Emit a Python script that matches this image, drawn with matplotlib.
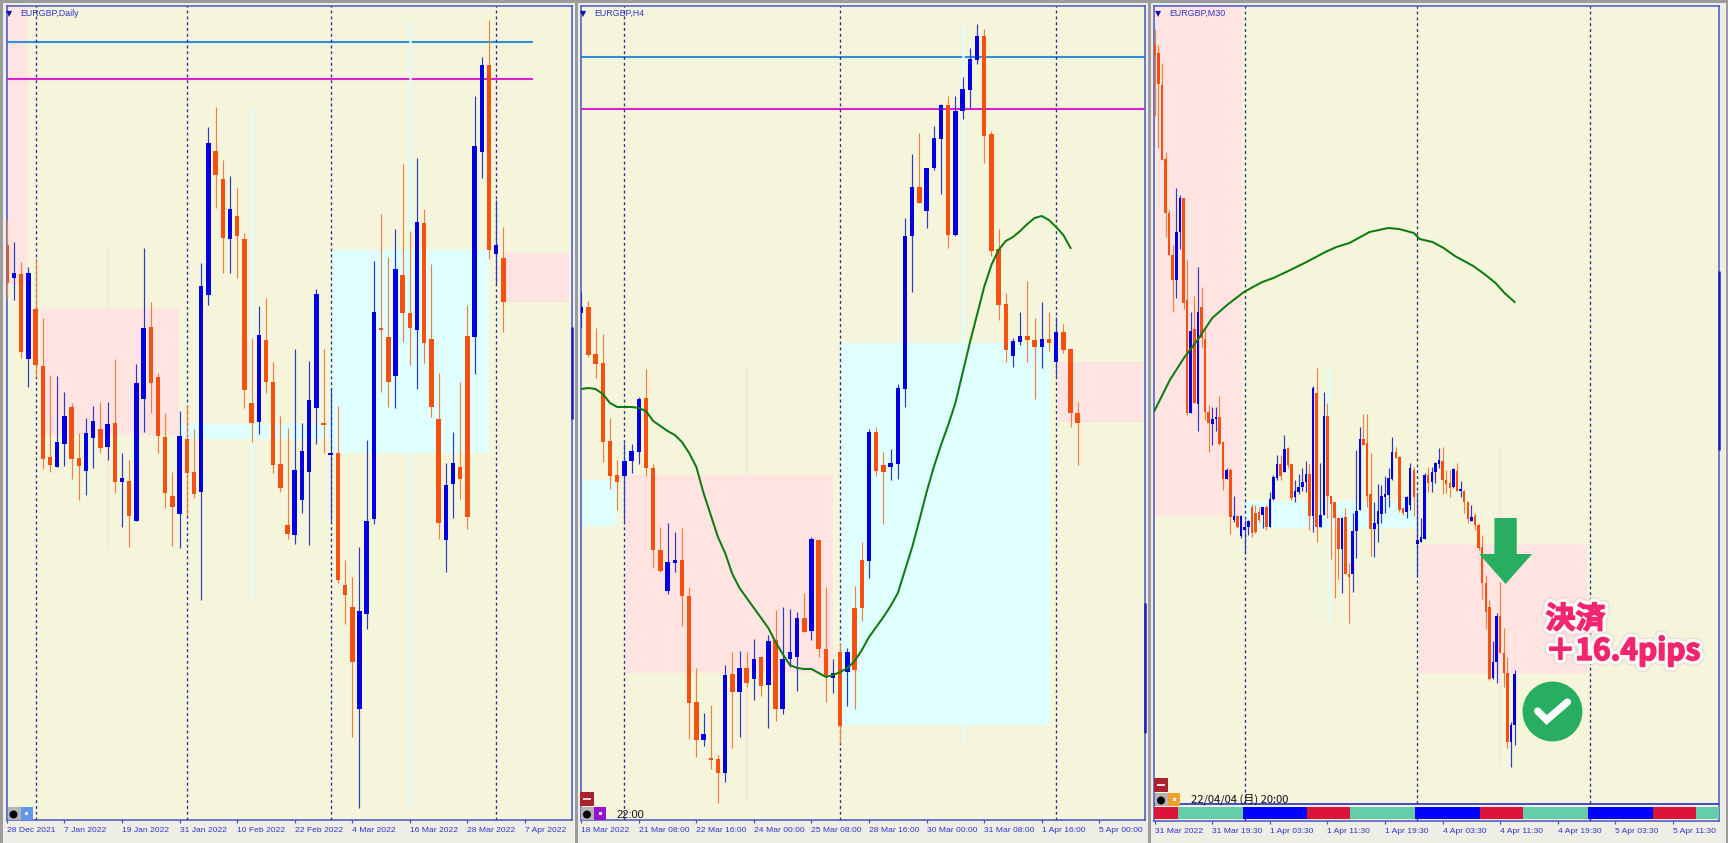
import matplotlib

matplotlib.use("Agg")
import matplotlib.pyplot as plt
import matplotlib.patheffects as pe
from matplotlib.patches import Ellipse, FancyArrow, Rectangle

W, H = 1728, 843

# price levels are read as rows of the reference, so the y axes run downwards
daily_dir = "obobooobbo" "obbobobobb" "ooooboobbo" "oboooboooo" "bbbbobooob" "bbooboobo" "o" "obboobbobo"
daily_high = [220, 242, 262, 267, 258, 318, 375, 376, 392, 403,
              433, 418, 406, 402, 402, 359, 453, 460, 364, 248,
              302, 373, 413, 472, 411, 405, 429, 263, 127, 107,
              160, 176, 188, 233, 338, 306, 298, 362, 416, 428,
              349, 423, 361, 289, 349, 388, 406, 560, 577, 547,
              440, 261, 214, 257, 229, 164, 231, 158, 209, 264,
              373, 463, 432, 382, 305, 96, 57, 20, 200, 227]
daily_top = [245, 273, 274, 273, 309, 366, 457, 442, 416, 407,
             458, 433, 421, 429, 424, 423, 478, 481, 383, 328,
             327, 377, 437, 496, 436, 439, 472, 286, 143, 151,
             179, 209, 216, 239, 403, 335, 340, 382, 464, 525,
             470, 451, 400, 294, 423, 453, 453, 585, 607, 611,
             521, 312, 328, 337, 269, 275, 313, 222, 223, 339,
             419, 485, 463, 467, 336, 146, 65, 65, 245, 258]
daily_bot = [283, 278, 352, 359, 365, 459, 465, 467, 444, 459,
             466, 471, 438, 448, 447, 482, 482, 516, 521, 399,
             383, 436, 493, 507, 514, 473, 494, 492, 295, 175,
             238, 239, 236, 390, 423, 422, 382, 465, 488, 534,
             535, 500, 472, 408, 425, 454, 580, 595, 662, 709,
             614, 519, 329, 382, 376, 313, 328, 330, 343, 407,
             523, 540, 484, 479, 517, 337, 152, 250, 254, 302]
daily_low = [298, 300, 358, 387, 377, 469, 472, 467, 466, 479,
             500, 495, 468, 453, 460, 493, 527, 547, 521, 432,
             413, 453, 508, 546, 548, 515, 498, 600, 305, 208,
             273, 273, 278, 408, 442, 434, 393, 473, 492, 539,
             544, 513, 545, 444, 453, 521, 583, 624, 737, 808,
             629, 524, 392, 407, 408, 342, 365, 389, 363, 417,
             539, 572, 518, 499, 529, 374, 178, 259, 285, 332]
daily_ticks = ["28 Dec 2021", "7 Jan 2022", "19 Jan 2022", "31 Jan 2022", "10 Feb 2022",
               "22 Feb 2022", "4 Mar 2022", "16 Mar 2022", "28 Mar 2022", "7 Apr 2022"]

h4_dir = "booooobbbo" "oobboooboo" "bobobobobb" "bobooboboo" "boobbbbobb" "bobbbboooo" "bboobobooo"
h4_high = [292, 301, 328, 334, 418, 460, 443, 444, 397, 369,
           464, 527, 523, 532, 528, 587, 668, 713, 705, 755,
           665, 652, 651, 652, 639, 656, 635, 610, 607, 609,
           612, 593, 537, 539, 587, 659, 643, 648, 586, 542,
           429, 427, 452, 449, 384, 218, 154, 133, 168, 126,
           104, 96, 96, 77, 48, 24, 29, 131, 229, 293,
           338, 312, 281, 318, 302, 312, 317, 324, 348, 402]
h4_top = [307, 307, 354, 363, 441, 475, 461, 451, 399, 398,
          468, 550, 562, 560, 560, 596, 702, 734, 758, 759,
          675, 674, 668, 668, 659, 657, 641, 640, 659, 652,
          618, 618, 539, 540, 649, 673, 652, 652, 608, 560,
          432, 432, 465, 463, 388, 236, 187, 187, 168, 138,
          105, 105, 111, 89, 59, 36, 36, 134, 249, 304,
          341, 336, 336, 340, 339, 339, 332, 332, 349, 413]
h4_bot = [313, 355, 364, 442, 476, 482, 476, 461, 452, 468,
          550, 571, 591, 563, 596, 703, 740, 740, 759, 773,
          773, 692, 692, 683, 679, 686, 685, 709, 709, 659,
          657, 632, 631, 649, 677, 678, 726, 672, 670, 608,
          561, 471, 472, 467, 464, 389, 236, 203, 211, 168,
          139, 235, 235, 111, 90, 60, 136, 251, 305, 350,
          356, 342, 340, 347, 347, 343, 362, 350, 413, 423]
h4_low = [328, 357, 378, 462, 489, 510, 522, 473, 464, 476,
          568, 572, 594, 572, 626, 739, 757, 746, 769, 803,
          782, 748, 737, 687, 700, 696, 728, 721, 714, 667,
          691, 632, 640, 657, 702, 693, 743, 706, 709, 621,
          578, 476, 524, 480, 479, 407, 292, 203, 228, 170,
          194, 248, 236, 119, 109, 64, 163, 256, 320, 362,
          367, 345, 362, 399, 368, 351, 377, 353, 427, 465]
h4_ma = [389, 388, 389, 394, 403, 407, 407, 407, 408, 411,
         421, 426, 431, 435, 442, 453, 467, 493, 515, 537,
         553, 574, 588, 598, 608, 618, 628, 642, 654, 665,
         668, 669, 669, 673, 677, 675, 672, 668, 661, 650,
         637, 627, 617, 606, 593, 570, 547, 520, 492, 467,
         445, 425, 403, 373, 343, 315, 287, 265, 250, 241,
         237, 231, 224, 218, 216, 220, 227, 235, 248]
h4_ticks = ["18 Mar 2022", "21 Mar 08:00", "22 Mar 16:00", "24 Mar 00:00", "25 Mar 08:00",
            "28 Mar 16:00", "30 Mar 00:00", "31 Mar 08:00", "1 Apr 16:00", "5 Apr 00:00"]

# bars of the M30 panel that closed up (blue)
m30_up = [6, 7, 10, 12, 16, 17, 20, 22, 24, 25, 26, 30, 32, 33, 34, 36, 39, 40, 41, 42, 44, 46, 47,
          52, 55, 56, 57, 61, 62, 63, 64, 65, 66, 70, 71, 73, 74, 75, 77, 78, 79, 83, 85, 88, 94, 95,
          99, 100]
m30_high = [29, 45, 63, 152, 210, 245, 188, 195, 198, 260,
            312, 296, 267, 287, 328, 405, 407, 407, 396, 442,
            468, 468, 496, 515, 515, 520, 520, 504, 505, 507,
            507, 505, 492, 475, 455, 455, 435, 447, 464, 480,
            474, 468, 461, 464, 386, 368, 463, 392, 403, 496,
            502, 517, 517, 508, 563, 513, 450, 427, 414, 414,
            453, 502, 484, 485, 476, 468, 437, 447, 456, 508,
            496, 463, 467, 492, 518, 473, 467, 467, 462, 448,
            447, 470, 470, 468, 463, 481, 490, 501, 505, 513,
            524, 535, 575, 600, 641, 613, 582, 628, 657, 722, 670]
m30_top = [45, 53, 85, 159, 213, 255, 232, 198, 198, 300,
           331, 329, 312, 307, 339, 412, 419, 417, 417, 442,
           470, 470, 516, 516, 516, 527, 521, 507, 513, 512,
           507, 507, 499, 477, 464, 464, 449, 448, 464, 491,
           487, 482, 474, 474, 388, 393, 515, 416, 416, 496,
           502, 518, 518, 517, 574, 531, 511, 439, 439, 443,
           494, 523, 511, 496, 494, 478, 452, 452, 457, 508,
           497, 468, 470, 540, 537, 475, 475, 472, 463, 460,
           461, 480, 483, 469, 471, 489, 491, 502, 517, 516,
           525, 547, 583, 607, 662, 616, 616, 653, 673, 725, 674]
m30_bot = [55, 84, 160, 213, 255, 280, 280, 232, 303, 413,
           413, 403, 404, 338, 412, 423, 424, 419, 444, 479,
           479, 517, 520, 527, 536, 530, 527, 533, 532, 520,
           515, 527, 527, 499, 478, 476, 472, 465, 498, 497,
           492, 487, 482, 516, 516, 527, 527, 515, 496, 504,
           518, 549, 549, 574, 577, 574, 531, 510, 445, 496,
           529, 529, 524, 514, 497, 495, 479, 458, 510, 513,
           512, 505, 497, 544, 542, 539, 483, 482, 472, 464,
           480, 484, 488, 487, 491, 491, 502, 519, 521, 525,
           548, 583, 612, 679, 678, 662, 653, 673, 742, 742, 725]
m30_low = [116, 148, 160, 237, 255, 312, 298, 249, 309, 415,
           413, 403, 431, 347, 420, 452, 445, 431, 445, 490,
           479, 534, 522, 528, 538, 553, 535, 537, 533, 522,
           528, 530, 527, 500, 480, 480, 472, 468, 500, 502,
           494, 491, 492, 530, 532, 542, 527, 515, 518, 559,
           598, 579, 593, 574, 623, 592, 558, 510, 445, 507,
           556, 557, 542, 523, 513, 507, 480, 458, 512, 515,
           518, 510, 516, 575, 542, 539, 492, 492, 483, 468,
           494, 493, 497, 488, 491, 497, 513, 523, 521, 530,
           550, 599, 629, 680, 679, 683, 653, 687, 748, 767, 745]
m30_ma_x = [-0.1, 4.2, 8.3, 11.9, 16, 20.1, 24.8, 27.3, 29.9, 33, 37.1, 42.2, 47.4, 50.5,
            54.1, 59.7, 64.9, 67.9, 72, 73.6, 77.2, 80.3, 83.4, 88.5, 91.6, 94.7, 97.2, 100]
m30_ma_y = [411, 380, 357, 340, 318, 305, 292, 287, 282, 278, 271, 262, 252, 247,
            243, 232, 228, 229, 233, 239, 242, 248, 256, 266, 274, 283, 293, 302]
m30_ticks = ["31 Mar 2022", "31 Mar 19:30", "1 Apr 03:30", "1 Apr 11:30", "1 Apr 19:30",
             "4 Apr 03:30", "4 Apr 11:30", "4 Apr 19:30", "5 Apr 03:30", "5 Apr 11:30"]
session_edges = [-0.2, 6.4, 24.4, 42.4, 54.4, 72.4, 90.4, 102.4, 120.4, 138.4, 150.4, 156.8]
session_names = ["red", "teal", "blue", "red", "teal", "blue", "red", "teal", "blue", "red", "teal"]

# zones: bar from, bar to, level top, level bottom
daily_pink = [(-0.05, 2.88, 6, 285), (4.58, 23.86, 308, 435), (69.05, 78.1, 253, 302)]
daily_cyan = [(24.2, 45.04, 424, 439), (45.1, 67.0, 250, 453)]
daily_thin_pink = [(14, 247, 547)]
daily_thin_cyan = [(34, 107, 600), (56, 20, 808)]
h4_pink = [(6.1, 35, 475, 673), (66.3, 78.2, 362, 422)]
h4_cyan = [(-0.1, 5, 480, 526), (36.1, 65.1, 343, 725)]
h4_thin_pink = [(23, 368, 803)]
h4_thin_cyan = [(53, 25, 743)]
m30_pink = [(-0.1, 24.25, 6, 516), (73.4, 120, 544, 674)]
m30_cyan = [(25, 72.6, 501, 528)]
m30_thin_pink = [(96, 447, 767)]
m30_thin_cyan = [(48.1, 368, 623)]

BG = "#f5f5dc"
PINK = "#ffe4e1"
CYAN = "#e0ffff"
ORANGE = "#f4500f"
BLUE = "#0000e0"
ORANGE_WICK = "#ef7f43"
BLUE_WICK = "#2d38c4"
NAVY = "#27308f"
AXIS = "#4656c0"
TICK_TXT = "#2f35c8"
GREEN = "#27ae60"
MA_GREEN = "#0f7a12"
SESSION = {"red": "#dc143c", "teal": "#66cdaa", "blue": "#0000ff"}
FONT = "Liberation Sans"
CJK = ["Noto Sans CJK JP", "DejaVu Sans"]


def px_rect(fig, x0, y0, x1, y1, color, zorder=10):
    fig.add_artist(Rectangle((x0 / W, 1 - y1 / H), (x1 - x0) / W, (y1 - y0) / H,
                             transform=fig.transFigure, fc=color, ec="none", zorder=zorder))


def draw_panel(fig, box, xlim, step, highs, tops, bots, lows, is_up, pink, cyan, thin_pink, thin_cyan,
               bars_v, title, title_x, ticks, tick_every, hl=None, hl_end=None, edge_bar=None):
    x0, y0, x1, y1 = box
    ax = fig.add_axes([x0 / W, 1 - y1 / H, (x1 - x0) / W, (y1 - y0) / H])
    ax.set_facecolor(BG)
    ax.set_xlim(*xlim)
    ax.set_ylim(y1, y0)
    for a, b, t, u in pink:
        ax.add_patch(Rectangle((a, t), b - a, u - t, fc=PINK, ec="none", zorder=1))
    for a, b, t, u in cyan:
        ax.add_patch(Rectangle((a, t), b - a, u - t, fc=CYAN, ec="none", zorder=1))
    if hl:
        end = hl_end if hl_end is not None else xlim[1]
        ax.hlines(hl[0], xlim[0], end, color="#2f8fd6", lw=1.5, zorder=2)
        ax.hlines(hl[1], xlim[0], end, color="#e01fd0", lw=1.5, zorder=2)
    for b, t, u in thin_pink:
        ax.vlines(b, t, u, color=PINK, lw=1.4, zorder=1.5)
    for b, t, u in thin_cyan:
        ax.vlines(b, t, u, color=CYAN, lw=1.8, zorder=3)
    for b in bars_v:
        ax.axvline(b, color=NAVY, lw=0.95, ls=(0, (2.2, 2.2)), zorder=3)

    xs = list(range(len(highs)))
    wick_cols = [BLUE_WICK if u else ORANGE_WICK for u in is_up]
    body_cols = [BLUE if u else ORANGE for u in is_up]
    ax.vlines(xs, highs, lows, colors=wick_cols, lw=0.85, zorder=4)
    heights = [max(b - t, 1.5) for t, b in zip(tops, bots)]
    ax.bar(xs, heights, bottom=tops, width=step, color=body_cols, lw=0, zorder=4.5)

    if edge_bar:
        ax.vlines(xlim[1], edge_bar[0], edge_bar[1], color="#1f1fc0", lw=1.8, zorder=6, clip_on=False)

    for s in ax.spines.values():
        s.set_color(AXIS)
        s.set_linewidth(1.1)
    ax.set_yticks([])
    ax.set_xticks([i * tick_every for i in range(len(ticks))])
    ax.set_xticklabels(ticks, ha="left", fontsize=6.1, color=TICK_TXT, family=FONT)
    ax.tick_params(axis="x", length=2.5, width=0.9, color=AXIS, pad=2.8)

    fig.text((title_x - 10.5) / W, 1 - 13.5 / H, "\u25bc", fontsize=5.8, color="#1414a8",
             ha="center", va="center", family="DejaVu Sans", zorder=12)
    fig.text(title_x / W, 1 - 13.5 / H, title, fontsize=6.4, color=TICK_TXT,
             ha="left", va="center", family=FONT, zorder=12)
    return ax


def icons(fig, x, y, color, w_grey=13, minus_y=None):
    px_rect(fig, x, y, x + w_grey, y + 13, "#b4b4b4")
    fig.add_artist(Ellipse(((x + 6) / W, 1 - (y + 7.5) / H), 8 / W, 8 / H,
                           transform=fig.transFigure, fc="black", ec="none", zorder=11))
    px_rect(fig, x + w_grey, y, x + w_grey + 12, y + 13, color)
    px_rect(fig, x + w_grey + 4.5, y + 5, x + w_grey + 7.5, y + 8, "#f4f4f4", zorder=11)
    if minus_y is not None:
        px_rect(fig, x - 1, minus_y, x + 13, minus_y + 14, "#a8232e")
        px_rect(fig, x + 2, minus_y + 6, x + 10, minus_y + 8, "#f0d8d8", zorder=11)


def main():
    fig = plt.figure(figsize=(W / 100, H / 100), dpi=100, facecolor="#eeeee6")

    # window chrome
    px_rect(fig, 0, 0, W, 3, "#9c9c9c", zorder=1)
    for a, b in [(0, 3), (575, 578), (1148, 1151), (1726, 1728)]:
        px_rect(fig, a, 0, b, H, "#9c9c9c", zorder=1)

    daily_up = [c == "b" for c in daily_dir]
    draw_panel(fig, (6.5, 6, 571.5, 820), (-0.05, 78.46), 0.62,
               daily_high, daily_top, daily_bot, daily_low, daily_up,
               daily_pink, daily_cyan, daily_thin_pink, daily_thin_cyan,
               [4, 25, 45, 68], "EURGBP,Daily", 20, daily_ticks, 8,
               hl=(42, 79), hl_end=73.06, edge_bar=(327, 419))

    h4_up = [c == "b" for c in h4_dir]
    ax2 = draw_panel(fig, (580.5, 6, 1145, 820), (-0.1, 78.35), 0.62,
                     h4_high, h4_top, h4_bot, h4_low, h4_up,
                     h4_pink, h4_cyan, h4_thin_pink, h4_thin_cyan,
                     [6, 36, 66], "EURGBP,H4", 594, h4_ticks, 8,
                     hl=(57, 109), edge_bar=(603, 733))
    ax2.plot(range(len(h4_ma)), h4_ma, color=MA_GREEN, lw=1.45, zorder=7)

    m30_is_up = [i in m30_up for i in range(len(m30_high))]
    ax3 = draw_panel(fig, (1154, 6, 1719, 821), (-0.2, 156.8), 0.7,
                     m30_high, m30_top, m30_bot, m30_low, m30_is_up,
                     m30_pink, m30_cyan, m30_thin_pink, m30_thin_cyan,
                     [25, 73, 121], "EURGBP,M30", 1169, m30_ticks, 16,
                     edge_bar=(271, 450))
    ax3.plot(m30_ma_x, m30_ma_y, color=MA_GREEN, lw=1.45, zorder=7)

    # session strip along the bottom of the M30 panel
    for a, b, name in zip(session_edges[:-1], session_edges[1:], session_names):
        ax3.add_patch(Rectangle((a, 807), b - a, 12, fc=SESSION[name], ec="none", zorder=6))
    ax3.hlines(804, -0.2, 156.8, color="#2a2ad0", lw=1.2, zorder=6)

    # trade annotation
    ax3.add_patch(FancyArrow(97.5, 518, 0, 66, width=6.2, head_width=14.7, head_length=30,
                             length_includes_head=True, fc=GREEN, ec="none", zorder=8))
    ax3.scatter([110.5], [711], s=1860, color=GREEN, lw=0, zorder=8, clip_on=False)
    ax3.plot([106.4, 108.9, 114.7], [711, 720, 702], color="white", lw=5.2,
             solid_capstyle="round", solid_joinstyle="miter", zorder=9)
    effects = [pe.withStroke(linewidth=8, foreground="#d9c9c9", alpha=0.45),
               pe.withStroke(linewidth=6, foreground="#fbf7f4"),
               pe.withStroke(linewidth=1.1, foreground="#f3256f"),
               pe.Normal()]
    for label, lx, ly in [("決済", 108.6, 619), ("＋16.4pips", 108.6, 651)]:
        ax3.text(lx, ly, label, fontsize=21.5, fontweight="bold", color="#f3256f", family=CJK,
                 ha="left", va="center", zorder=10, path_effects=effects, clip_on=False)

    icons(fig, 7.5, 807, "#5f97ef")
    icons(fig, 581, 807, "#9a12d0", minus_y=792)
    icons(fig, 1155, 793, "#f0a030", minus_y=778)
    fig.text(616 / W, 1 - 815 / H, "22:00", fontsize=8, color="#111111", family=FONT,
             ha="left", va="center", zorder=12)
    fig.text(1191 / W, 1 - 799 / H, "22/04/04 (月) 20:00", fontsize=8, color="#111111", family=CJK,
             ha="left", va="center", zorder=12)

    fig.savefig("out.png", dpi=100, facecolor=fig.get_facecolor())
    plt.close(fig)


if __name__ == "__main__":
    main()
